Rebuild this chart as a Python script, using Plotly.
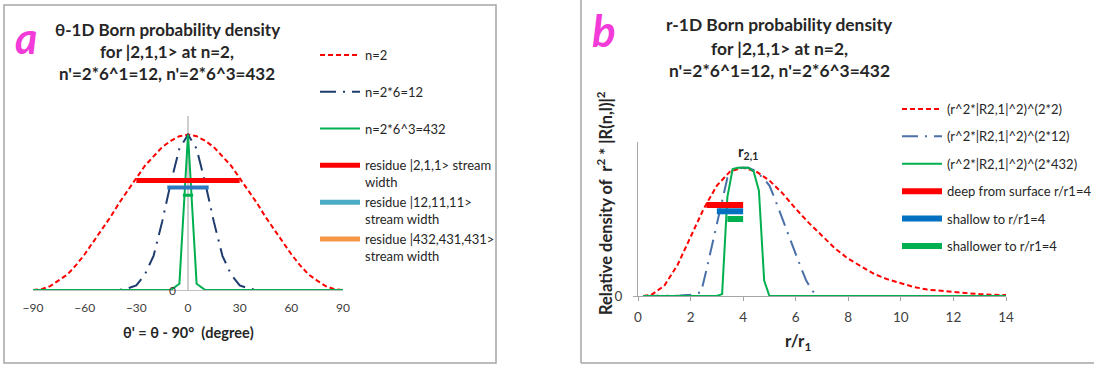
import plotly.graph_objects as go

W, H = 1094, 366
FONT = "Lato"
TXT = "#262626"

# ---------------- panel a data (theta' in degrees) ----------------
theta = [-90, -85, -80, -75, -70, -65, -60, -55, -50, -45, -40, -35, -30, -25, -20, -15, -10, -5,
         0, 5, 10, 15, 20, 25, 30, 35, 40, 45, 50, 55, 60, 65, 70, 75, 80, 85, 90]
dens_n2 = [0, 0.005, 0.025, 0.06, 0.10, 0.16, 0.23, 0.31, 0.39, 0.47, 0.56, 0.64, 0.72, 0.80, 0.86, 0.92, 0.96, 0.99,
           1.0, 0.99, 0.96, 0.92, 0.86, 0.80, 0.72, 0.64, 0.56, 0.47, 0.39, 0.31, 0.23, 0.16, 0.10, 0.06, 0.025, 0.005, 0]
dens_n12 = [0, 0, 0, 0, 0, 0, 0, 0, 0, 0, 0.0, 0.01, 0.03, 0.10, 0.22, 0.44, 0.69, 0.91,
            1.0, 0.91, 0.69, 0.44, 0.22, 0.10, 0.03, 0.01, 0.0, 0, 0, 0, 0, 0, 0, 0, 0, 0, 0]
dens_n432 = [0, 0, 0, 0, 0, 0, 0, 0, 0, 0, 0, 0, 0, 0, 0, 0, 0, 0.04,
             1.0, 0.04, 0, 0, 0, 0, 0, 0, 0, 0, 0, 0, 0, 0, 0, 0, 0, 0, 0]
a_bar_names = ["residue |2,1,1> stream<br>width", "residue |12,11,11><br>stream width",
               "residue |432,431,431><br>stream width"]
a_bar_half = [30, 12, 3]
a_bar_level = [0.705, 0.66, 0.61]
a_bar_plot_colors = ["#FF0000", "#2E78C0", "#00B050"]
a_bar_legend_colors = ["#FF0000", "#4BACC6", "#F79646"]
a_bar_widths = [5, 4, 3]
a_xticks = [-90, -60, -30, 0, 30, 60, 90]

# ---------------- panel b data (r/r1) ----------------
r_red = [0.2, 0.5, 1.0, 1.5, 2.0, 2.5, 3.0, 3.5, 4.0, 4.5, 5.0, 5.5, 6.0, 6.5, 7.0, 7.5, 8.0, 8.5,
         9.0, 9.5, 10.0, 10.5, 11.0, 11.5, 12.0, 12.5, 13.0, 13.5, 14.0]
dens_red = [0.0, 0.008, 0.08, 0.24, 0.46, 0.68, 0.86, 0.97, 1.0, 0.97, 0.90, 0.80, 0.68, 0.57, 0.47, 0.37, 0.29, 0.23,
            0.17, 0.13, 0.10, 0.07, 0.05, 0.04, 0.03, 0.02, 0.014, 0.01, 0.007]
r_blue = [0.2, 1.0, 1.6, 2.0, 2.4, 2.6, 2.8, 3.0, 3.2, 3.4, 3.6, 3.8, 4.0, 4.2, 4.4, 4.6, 4.8, 5.0,
          5.2, 5.4, 5.6, 5.8, 6.0, 6.2, 6.4, 6.6, 6.8, 7.5, 14.0]
dens_blue = [0, 0, 0.003, 0.01, 0.03, 0.2, 0.38, 0.56, 0.75, 0.92, 0.98, 1.0, 1.0, 1.0, 0.98, 0.95, 0.91, 0.86,
             0.76, 0.65, 0.54, 0.43, 0.32, 0.22, 0.12, 0.05, 0.0, 0, 0]
r_green = [0.2, 3.0, 3.2, 3.4, 3.6, 3.8, 4.0, 4.2, 4.4, 4.6, 4.8, 5.0, 14.0]
dens_green = [0, 0, 0.015, 0.77, 0.99, 1.0, 1.0, 1.0, 0.97, 0.82, 0.12, 0, 0]
b_bar_names = ["deep from surface r/r1=4", "shallow to r/r1=4", "shallower to r/r1=4"]
b_bar_start = [2.6, 3.0, 3.4]
b_bar_end = [4.0, 4.0, 4.0]
b_bar_level = [0.71, 0.66, 0.60]
b_bar_colors = ["#FF0000", "#0070C0", "#00B050"]
b_xticks = [0, 2, 4, 6, 8, 10, 12, 14]

fig = go.Figure()

# ---- panel a curves ----
a_curves = [
    ("n=2<br> ", dens_n2, dict(color="#FF0000", width=2, dash="5px,3px")),
    ("n=2*6=12<br> ", dens_n12, dict(color="#1F3C6E", width=2, dash="16px,7px,2px,7px")),
    ("n=2*6^3=432<br> ", dens_n432, dict(color="#00B050", width=2)),
]
for i, (nm, ys, ln) in enumerate(a_curves):
    fig.add_trace(go.Scatter(x=theta, y=ys, mode="lines", line=ln, name=nm,
                             legend="legend", legendgroup=f"a{i}", xaxis="x", yaxis="y"))
for i in range(3):
    fig.add_trace(go.Scatter(x=[-a_bar_half[i], a_bar_half[i]], y=[a_bar_level[i], a_bar_level[i]],
                             mode="lines", line=dict(color=a_bar_plot_colors[i], width=a_bar_widths[i]),
                             showlegend=False, xaxis="x", yaxis="y"))
for i in range(3):
    fig.add_trace(go.Scatter(x=[None], y=[None], mode="lines",
                             line=dict(color=a_bar_legend_colors[i], width=5), name=a_bar_names[i],
                             legend="legend", legendgroup=f"a{i+3}", xaxis="x", yaxis="y"))

# ---- panel b curves ----
b_curves = [
    ("(r^2*|R2,1|^2)^(2*2)", r_red, dens_red, dict(color="#FF0000", width=2, dash="5px,3px")),
    ("(r^2*|R2,1|^2)^(2*12)", r_blue, dens_blue, dict(color="#4A70A8", width=2, dash="16px,7px,2px,7px")),
    ("(r^2*|R2,1|^2)^(2*432)", r_green, dens_green, dict(color="#00B050", width=2)),
]
for i, (nm, xs, ys, ln) in enumerate(b_curves):
    fig.add_trace(go.Scatter(x=xs, y=ys, mode="lines", line=ln, name=nm,
                             legend="legend2", legendgroup=f"b{i}", xaxis="x2", yaxis="y2"))
for i in range(3):
    fig.add_trace(go.Scatter(x=[b_bar_start[i], b_bar_end[i]], y=[b_bar_level[i], b_bar_level[i]],
                             mode="lines", line=dict(color=b_bar_colors[i], width=6), name=b_bar_names[i],
                             legend="legend2", legendgroup=f"b{i+3}", xaxis="x2", yaxis="y2"))

def px(x):
    return x / W

def py(y):
    return 1 - y / H

axis_common = dict(showgrid=False, zeroline=False, fixedrange=True, automargin=False)

fig.update_layout(
    width=W, height=H, autosize=False, margin=dict(l=0, r=0, t=0, b=0, pad=0, autoexpand=False),
    paper_bgcolor="white", plot_bgcolor="rgba(0,0,0,0)",
    font=dict(family=FONT, color=TXT),
    xaxis=dict(domain=[px(33), px(343)], range=[-90, 90], tickvals=a_xticks, anchor="y",
               showline=True, linecolor="#BFBFBF", linewidth=1, ticks="", ticklabelstandoff=7,
               tickfont=dict(size=12, color="#404040", family=FONT), **axis_common),
    yaxis=dict(domain=[py(290), py(116)], range=[0, 1.12], anchor="x", visible=False, **axis_common),
    xaxis2=dict(domain=[px(638), px(1006)], range=[0, 14], tickvals=b_xticks, anchor="y2",
                showline=True, linecolor="#A6A6A6", linewidth=1, ticks="outside", ticklen=4,
                tickcolor="#A6A6A6", ticklabelstandoff=5,
                tickfont=dict(size=13.5, color="#404040", family=FONT), **axis_common),
    yaxis2=dict(domain=[py(296), py(142)], range=[0, 1.2], tickvals=[0], anchor="x2",
                showline=True, linecolor="#A6A6A6", linewidth=1, ticks="outside", ticklen=4,
                tickcolor="#A6A6A6", ticklabelstandoff=8,
                tickfont=dict(size=13.5, color="#404040", family=FONT), **axis_common),
    legend=dict(x=px(315), y=py(40), xanchor="left", yanchor="top", bgcolor="rgba(0,0,0,0)",
                font=dict(family=FONT, size=13, color=TXT), tracegroupgap=0, valign="top",
                itemwidth=40),
    legend2=dict(x=px(897), y=py(94), xanchor="left", yanchor="top", bgcolor="rgba(0,0,0,0)",
                 font=dict(family=FONT, size=13, color=TXT), tracegroupgap=7.5, itemwidth=40),
    showlegend=True,
)

# panel frames (kept inside the figure) and panel a's vertical axis at theta' = 0
shapes = [
    dict(type="rect", xref="paper", yref="paper", x0=px(4), x1=px(496), y0=py(363), y1=py(5),
         line=dict(color="#A6A6A6", width=1.5), layer="below"),
    dict(type="line", xref="paper", yref="paper", x0=px(581), x1=px(581), y0=py(363), y1=1,
         line=dict(color="#A6A6A6", width=1.5), layer="below"),
    dict(type="line", xref="paper", yref="paper", x0=px(581), x1=1, y0=py(363), y1=py(363),
         line=dict(color="#A6A6A6", width=1.5), layer="below"),
    dict(type="line", xref="x", yref="y domain", x0=0, x1=0, y0=0, y1=1,
         line=dict(color="#BFBFBF", width=1.5), layer="below"),
]
fig.update_layout(shapes=shapes)

ann = []
title_a = ["θ-1D Born probability density", "for |2,1,1> at n=2,", "n'=2*6^1=12, n'=2*6^3=432"]
for t, yy in zip(title_a, [30, 51, 73]):
    ann.append(dict(text=f"<b>{t}</b>", x=px(167), y=py(yy), xref="paper", yref="paper",
                    showarrow=False, xanchor="center", yanchor="middle", font=dict(size=17, color="#262626")))
title_b = ["r-1D Born probability density", "for |2,1,1> at n=2,", "n'=2*6^1=12, n'=2*6^3=432"]
for t, yy in zip(title_b, [25, 48, 70]):
    ann.append(dict(text=f"<b>{t}</b>", x=px(779), y=py(yy), xref="paper", yref="paper",
                    showarrow=False, xanchor="center", yanchor="middle", font=dict(size=17.4, color="#262626")))
ann.append(dict(text="<b><i>a</i></b>", x=px(26), y=py(37), xref="paper", yref="paper", showarrow=False,
                xanchor="center", yanchor="middle", font=dict(size=43, color="#F23BD9")))
ann.append(dict(text="<b><i>b</i></b>", x=px(604), y=py(30), xref="paper", yref="paper", showarrow=False,
                xanchor="center", yanchor="middle", font=dict(size=44, color="#F23BD9")))
ann.append(dict(text="<b>θ' = θ - 90°  (degree)</b>", x=px(188), y=py(332), xref="paper", yref="paper",
                showarrow=False, xanchor="center", yanchor="middle", font=dict(size=14.5, color="#262626")))
ann.append(dict(text="<b>r/r<sub>1</sub></b>", x=px(798), y=py(342), xref="paper", yref="paper",
                showarrow=False, xanchor="center", yanchor="middle", font=dict(size=17, color="#262626")))
ann.append(dict(text="<b>Relative density of  r<sup>2</sup> * |R(n,l)|<sup>2</sup></b>", x=px(605), y=py(203),
                xref="paper", yref="paper", showarrow=False, textangle=-90, xanchor="center", yanchor="middle",
                font=dict(size=16.5, color="#262626")))
ann.append(dict(text="<b>r<sub>2,1</sub></b>", x=px(748), y=py(152), xref="paper", yref="paper",
                showarrow=False, xanchor="center", yanchor="middle", font=dict(size=15, color="#262626")))
# tick label "0" of panel a's vertical axis (drawn at theta' = 0)
ann.append(dict(text="0", x=0, y=0, xref="x", yref="y", showarrow=False, xanchor="right", yanchor="middle",
                xshift=-10, font=dict(size=12, color="#404040")))
fig.update_layout(annotations=ann)

fig.write_html("out.html", config={"responsive": False, "displayModeBar": False})
